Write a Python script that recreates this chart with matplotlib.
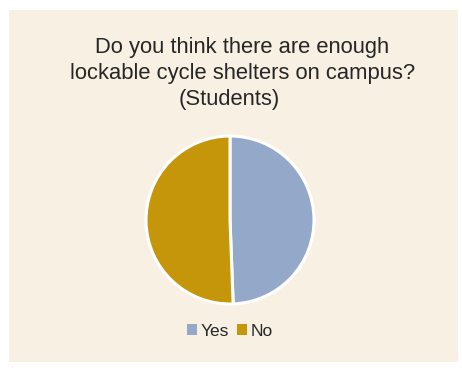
import matplotlib.pyplot as plt
from matplotlib.patches import Rectangle

plt.rcParams['font.family'] = ['Liberation Sans', 'DejaVu Sans']

# survey answers (share of students, %)
labels = ['Yes', 'No']
shares = [49.4, 50.6]
colors = ['#94A9CA', '#C5960A']
title_lines = ['Do you think there are enough',
               'lockable cycle shelters on campus?',
               '(Students)']

W, H = 462, 374
fig = plt.figure(figsize=(W / 100, H / 100), dpi=100, facecolor='white')

# beige chart area
fig.patches.append(Rectangle((9 / W, 12 / H), 449 / W, 352 / H,
                             transform=fig.transFigure, facecolor='#F8F0E3',
                             edgecolor='none', zorder=-5))

# title, one line at a time
for txt, cx, cy in zip(title_lines, [242, 243, 229], [47, 73, 100]):
    fig.text(cx / W, 1 - cy / H, txt, ha='center', va='center',
             fontsize=15.8, color='#262626')

# pie
r = 84
pad = 1.04
ax = fig.add_axes([(230 - r * pad) / W, 1 - (220 + r * pad) / H,
                   2 * r * pad / W, 2 * r * pad / H], zorder=2)
ax.pie(shares, colors=colors, startangle=90, counterclock=False,
       wedgeprops=dict(edgecolor='white', linewidth=2.2))
ax.set_xlim(-pad, pad)
ax.set_ylim(-pad, pad)
ax.set_aspect('equal')
ax.axis('off')

# legend
handles = [Rectangle((0, 0), 1, 1, facecolor=c) for c in colors]
fig.legend(handles, labels, loc='center', bbox_to_anchor=(230 / W, 1 - 331 / H),
           ncol=2, frameon=False, fontsize=12.5, handlelength=0.55,
           handleheight=0.55, handletextpad=0.2, columnspacing=0.5,
           labelcolor='#262626')

fig.savefig('out.png', dpi=100, facecolor='white')
